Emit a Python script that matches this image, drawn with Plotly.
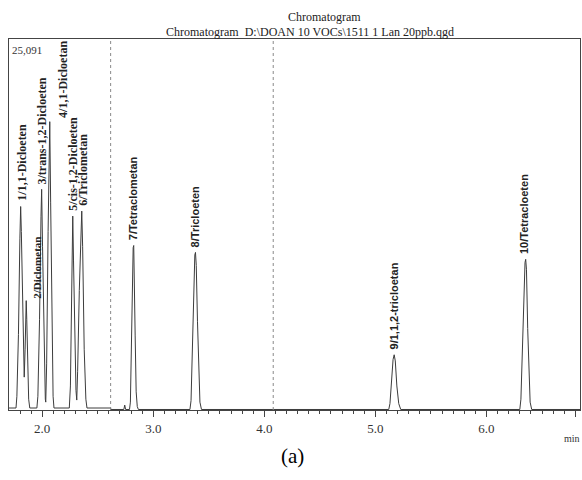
import plotly.graph_objects as go

# ---- data ----
times = [1.700, 1.764, 1.772, 1.786, 1.799, 1.806, 1.812, 1.822, 1.832, 1.838, 1.846, 1.853, 1.856, 1.861, 1.869, 1.878, 1.888,
         1.952, 1.961, 1.976, 1.989, 1.995, 2.003, 2.016, 2.028, 2.032, 2.040, 2.053, 2.064, 2.068, 2.076, 2.087, 2.098, 2.106,
         2.244, 2.254, 2.264, 2.271, 2.275, 2.282, 2.294, 2.304, 2.311, 2.319, 2.334, 2.349, 2.356, 2.364, 2.378, 2.393, 2.403,
         2.616, 2.617, 2.735, 2.743, 2.751,
         2.786, 2.794, 2.802, 2.810, 2.819, 2.824, 2.829, 2.837, 2.846, 2.856, 2.866,
         3.330, 3.340, 3.350, 3.361, 3.374, 3.380, 3.387, 3.398, 3.410, 3.420, 3.434,
         5.120, 5.131, 5.144, 5.159, 5.169, 5.179, 5.193, 5.210, 5.228,
         6.300, 6.310, 6.322, 6.335, 6.347, 6.353, 6.360, 6.371, 6.383, 6.393, 6.407, 6.842]
signal = [0, 0, 800, 5000, 11500, 13700, 12000, 7000, 3500, 2100, 4000, 7000, 7300, 6000, 2500, 600, 0,
          0, 800, 6000, 13000, 14870, 11000, 4000, 600, 400, 3000, 12000, 19000, 19470, 14000, 5000, 800, 0,
          0, 1500, 8000, 12500, 13050, 10000, 4000, 1200, 540, 2500, 8000, 12800, 13390, 11000, 4000, 600, 0,
          0, -100, -100, 200, -100,
          -100, 400, 3400, 8400, 10900, 11050, 9400, 4900, 1100, 100, -100,
          -100, 500, 3400, 7900, 10400, 10580, 9700, 5900, 1900, 400, -100,
          -100, 300, 1700, 3300, 3620, 3200, 1500, 300, -100,
          -100, 600, 3900, 8400, 9900, 10110, 9400, 5400, 1900, 400, -100, -100]

peak_names = ["1/1,1-Dicloeten", "2/Diclometan", "3/trans-1,2-Dicloeten", "4/1,1-Dicloetan",
              "5/cis-1,2-Dicloeten", "6/Triclometan", "7/Tetraclometan", "8/Tricloeten",
              "9/1,1,2-tricloetan", "10/Tetracloeten"]
peak_times = [1.806, 1.856, 1.995, 2.068, 2.275, 2.356, 2.824, 3.380, 5.169, 6.353]
peak_heights = [13700, 7300, 14870, 19470, 13050, 13390, 11050, 10580, 3620, 10110]

event_times = [2.616, 4.08]
tick_vals = [2.0, 3.0, 4.0, 5.0, 6.0, 6.8]
tick_text = ["2.0", "3.0", "4.0", "5.0", "6.0", "6.8"]
y_max = 25091

# ---- styling ----
label_dx = [1, 10, 0, 13, 0, 1, -1, -1, 0, -1]
label_dy = [4, 0, 3, 2, 3, 3, 3, 3, 3, 3]
label_font = ["Liberation Serif"] * 6 + ["Liberation Sans"] * 4
label_size = [12, 11, 12, 12, 12, 12, 11, 11, 11, 11]

fig = go.Figure()
fig.add_trace(go.Scatter(x=times, y=signal, mode="lines",
                         line=dict(color="#3c3c3c", width=1), hoverinfo="skip", showlegend=False))

for t in event_times:
    fig.add_shape(type="line", xref="x", yref="paper", x0=t, x1=t, y0=0, y1=1,
                  line=dict(color="#8a8a8a", width=1, dash="dot"))

for name, t, h, dx, dy, fam, sz in zip(peak_names, peak_times, peak_heights,
                                       label_dx, label_dy, label_font, label_size):
    fig.add_annotation(x=t, y=h, text="<b>" + name + "</b>", textangle=-90, showarrow=False,
                       xanchor="center", yanchor="bottom", xshift=dx, yshift=dy,
                       font=dict(family=fam, size=sz, color="#222"))

fig.add_annotation(xref="paper", yref="paper", x=0.552, y=1.058, text="Chromatogram",
                   showarrow=False, xanchor="center", yanchor="middle",
                   font=dict(family="Liberation Serif", size=12, color="#222"))
fig.add_annotation(xref="paper", yref="paper", x=0.527, y=1.019,
                   text="Chromatogram  D:\\DOAN 10 VOCs\\1511 1 Lan 20ppb.qgd",
                   showarrow=False, xanchor="center", yanchor="middle",
                   font=dict(family="Liberation Serif", size=12, color="#222"))
fig.add_annotation(xref="paper", yref="paper", x=0.002, y=0.970, text=f"{y_max:,}",
                   showarrow=False, xanchor="left", yanchor="middle",
                   font=dict(family="Liberation Serif", size=11, color="#333"))
fig.add_annotation(xref="paper", yref="paper", x=0.986, y=-0.076, text="min",
                   showarrow=False, xanchor="center", yanchor="middle",
                   font=dict(family="Liberation Serif", size=10, color="#333"))
fig.add_annotation(xref="paper", yref="paper", x=0.497, y=-0.125, text="(a)",
                   showarrow=False, xanchor="center", yanchor="middle",
                   font=dict(family="Liberation Serif", size=21, color="#000"))

fig.update_layout(
    width=582, height=480,
    margin=dict(l=9, r=2, t=39, b=70),
    paper_bgcolor="white", plot_bgcolor="white",
    showlegend=False,
    xaxis=dict(range=[1.701, 6.842], showgrid=False, zeroline=False,
               showline=True, mirror=True, linecolor="#444", linewidth=1,
               tickmode="array", tickvals=tick_vals, ticktext=tick_text,
               ticks="outside", ticklen=6, tickwidth=1, tickcolor="#444",
               tickfont=dict(family="Liberation Serif", size=13, color="#333"),
               minor=dict(tickmode="linear", tick0=0, dtick=0.1, ticks="outside",
                          ticklen=3, tickwidth=1, tickcolor="#444")),
    yaxis=dict(range=[-135, y_max], showgrid=False, zeroline=False,
               showline=True, mirror=True, linecolor="#444", linewidth=1,
               showticklabels=False, ticks=""),
)

fig.write_html("out.html")
